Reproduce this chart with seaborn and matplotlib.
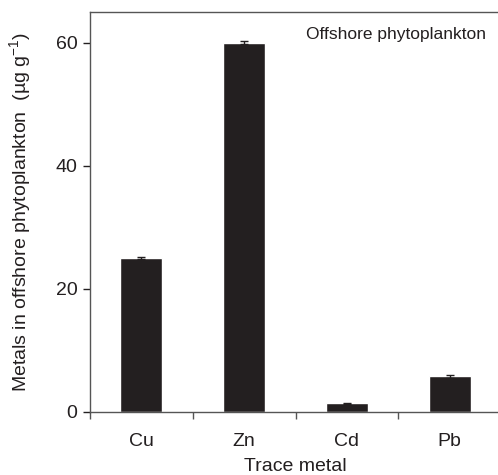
import matplotlib
matplotlib.use("Agg")
import matplotlib.pyplot as plt
import seaborn as sns
import pandas as pd

metals = ["Cu", "Zn", "Cd", "Pb"]
values = [25.0, 60.0, 1.4, 5.8]
errors = [0.2, 0.25, 0.1, 0.2]

sns.set_style("ticks")
plt.rcParams['font.family'] = ['Liberation Sans', 'DejaVu Sans']
plt.rcParams['mathtext.fontset'] = 'custom'
plt.rcParams['mathtext.rm'] = 'Liberation Sans'
plt.rcParams['mathtext.it'] = 'Liberation Sans'
plt.rcParams['mathtext.default'] = 'regular'
text_color = "#231f20"
bar_color = "#231f20"

fig = plt.figure(figsize=(4.98, 4.75), dpi=100)
ax = fig.add_axes([90/498, 1-412/475, 411/498, 400/475])

df = pd.DataFrame({"metal": metals, "value": values})
sns.barplot(data=df, x="metal", y="value", color=bar_color, width=0.41,
            saturation=1, ax=ax, errorbar=None)
ax.errorbar(range(len(metals)), values, yerr=errors, fmt="none",
            ecolor=bar_color, elinewidth=1, capsize=3, capthick=1)

ax.set_xlim(-0.5, 3.5)
ax.set_ylim(0, 65)
ax.set_yticks([0, 20, 40, 60])
ax.set_xticks(range(len(metals)))
ax.set_xticklabels(metals)
ax.set_xticks([-0.5, 0.5, 1.5, 2.5, 3.5], minor=True)
ax.tick_params(axis="x", which="major", length=0, pad=15, labelsize=14, colors=text_color)
ax.tick_params(axis="x", which="minor", length=5, width=1, colors="#555555")
ax.tick_params(axis="y", length=5, width=1, labelsize=14, colors=text_color, pad=4)
for lbl in ax.get_yticklabels():
    lbl.set_color(text_color)

for s in ["top", "left", "bottom", "right"]:
    ax.spines[s].set_visible(True)
    ax.spines[s].set_color("#555555")
    ax.spines[s].set_linewidth(1)

ax.set_xlabel("Trace metal", fontsize=14, color=text_color, labelpad=6)
ax.set_ylabel("Metals in offshore phytoplankton  (µg g$^{-1}$)", fontsize=14,
              color=text_color, labelpad=16)
ax.text(0.745, 0.9425, "Offshore phytoplankton", transform=ax.transAxes,
        ha="center", va="center", fontsize=12.5, color=text_color)

fig.savefig("out.png", dpi=100)
